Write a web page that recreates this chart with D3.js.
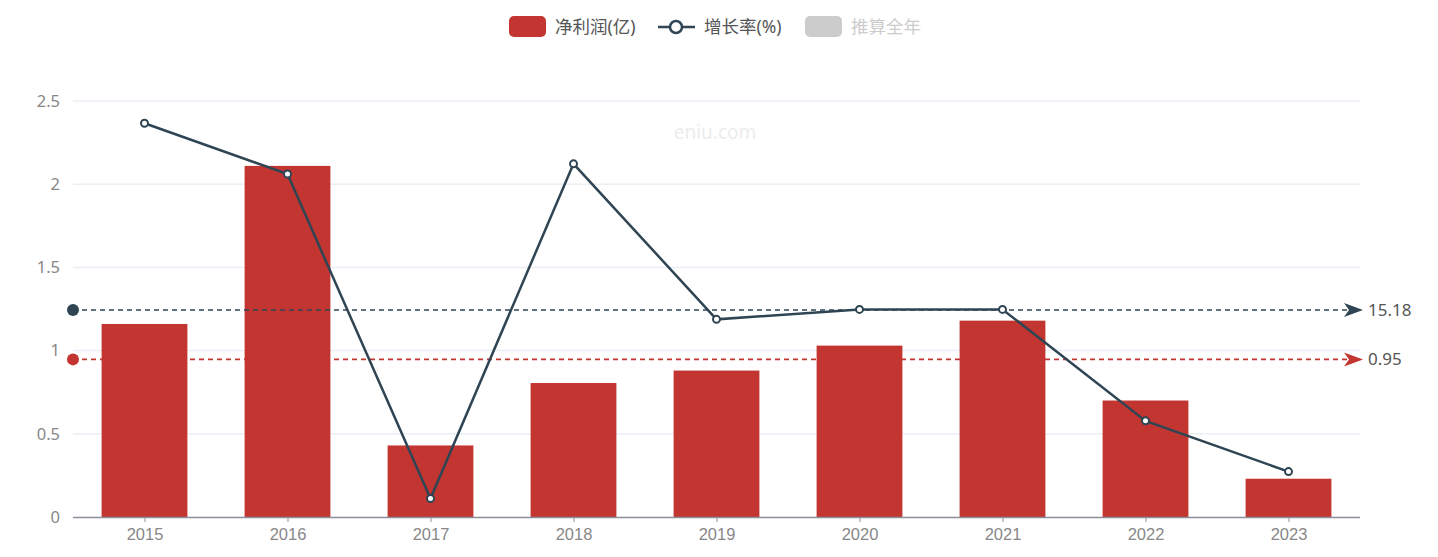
<!DOCTYPE html>
<html><head><meta charset="utf-8">
<script src="https://cdn.jsdelivr.net/npm/d3@7"></script>
<style>
html,body{margin:0;padding:0;background:#fff;}
svg{display:block;font-family:"Noto Sans","Noto Sans CJK SC",sans-serif;}
</style></head>
<body>
<svg id="c" width="1438" height="557"></svg>
<script>
const years = ["2015","2016","2017","2018","2019","2020","2021","2022","2023"];
const netProfit = [1.16, 2.11, 0.43, 0.805, 0.88, 1.03, 1.18, 0.70, 0.23];
const growthRate = [109, 83.5, -79.5, 88.62, 10.5, 15.5, 15.5, -40.5, -66];
const yTicks = [0, 0.5, 1, 1.5, 2, 2.5];
const legendItems = ["净利润(亿)", "增长率(%)", "推算全年"];

const svg = d3.select("#c");
const L = 73, R = 1360, T = 101, B = 517;
const red = "#c23531", dark = "#2f4554";

const x = d3.scaleBand().domain(years).range([L, R]).paddingInner(0.4).paddingOuter(0.2);
const xc = d3.scalePoint().domain(years).range([L, R]).padding(0.5);
const y = d3.scaleLinear().domain([0, 2.5]).range([B, T]);
const y2 = d3.scaleLinear().domain([-88.8, 120.2]).range([B, T]);

// watermark
svg.append("text").attr("x", 715).attr("y", 139).attr("text-anchor", "middle")
  .attr("font-size", 19).attr("fill", "#ededed").text("eniu.com");

// grid
svg.append("g").selectAll("line").data(yTicks.filter(d => d > 0)).join("line")
  .attr("x1", L).attr("x2", R).attr("y1", d => y(d)).attr("y2", d => y(d))
  .attr("stroke", "#eaeef5").attr("stroke-width", 1.5);

// y labels
svg.append("g").selectAll("text").data(yTicks).join("text")
  .attr("x", 60).attr("y", d => y(d)).attr("dy", "0.35em").attr("text-anchor", "end")
  .attr("font-size", 16.5).attr("fill", "#888").text(d => d);

// bars
svg.append("g").selectAll("rect").data(netProfit).join("rect")
  .attr("x", (d, i) => x(years[i])).attr("width", x.bandwidth())
  .attr("y", d => y(d)).attr("height", d => B - y(d)).attr("fill", red);

// x axis
const xa = svg.append("g").attr("transform", `translate(0,${B})`)
  .call(d3.axisBottom(xc).tickSize(5).tickPadding(6));
xa.select(".domain").attr("d", `M${L},0.5H${R}`).attr("stroke", "#8c8f99").attr("stroke-width", 1.5);
xa.selectAll(".tick line").attr("stroke", "#8c8f99");
xa.selectAll(".tick text").attr("font-size", 16.5).attr("fill", "#888");

// mark lines (averages)
function markLine(val, scale, color, label) {
  const yy = scale(val);
  const g = svg.append("g");
  g.append("line").attr("x1", L).attr("x2", R - 4).attr("y1", yy).attr("y2", yy)
    .attr("stroke", color).attr("stroke-width", 1.6).attr("stroke-dasharray", "5,4");
  g.append("circle").attr("cx", L).attr("cy", yy).attr("r", 6).attr("fill", color);
  g.append("path").attr("d", `M${R + 3},${yy} L${R - 16},${yy - 7} L${R - 11},${yy} L${R - 16},${yy + 7} Z`)
    .attr("fill", color);
  g.append("text").attr("x", R + 8).attr("y", yy).attr("dy", "0.35em")
    .attr("font-size", 17).attr("fill", "#555").text(label);
}
const avgGrowth = d3.mean(growthRate);
const avgProfit = d3.mean(netProfit);
markLine(avgGrowth, y2, dark, avgGrowth.toFixed(2));
markLine(avgProfit, y, red, avgProfit.toFixed(2));

// growth line
svg.append("path").datum(growthRate)
  .attr("d", d3.line().x((d, i) => xc(years[i])).y(d => y2(d)))
  .attr("fill", "none").attr("stroke", dark).attr("stroke-width", 2.5);
svg.append("g").selectAll("circle").data(growthRate).join("circle")
  .attr("cx", (d, i) => xc(years[i])).attr("cy", d => y2(d)).attr("r", 3.5)
  .attr("fill", "#fff").attr("stroke", dark).attr("stroke-width", 2);

// legend
const lg = svg.append("g");
lg.append("rect").attr("x", 509).attr("y", 16).attr("width", 37).attr("height", 21).attr("rx", 5).attr("fill", red);
lg.append("text").attr("x", 555).attr("y", 27).attr("dy", "0.35em").attr("font-size", 17.5).attr("fill", "#555").text(legendItems[0]);
lg.append("line").attr("x1", 658).attr("x2", 695).attr("y1", 27).attr("y2", 27).attr("stroke", dark).attr("stroke-width", 2.5);
lg.append("circle").attr("cx", 676).attr("cy", 27).attr("r", 6).attr("fill", "#fff").attr("stroke", dark).attr("stroke-width", 2.5);
lg.append("text").attr("x", 704).attr("y", 27).attr("dy", "0.35em").attr("font-size", 17.5).attr("fill", "#555").text(legendItems[1]);
lg.append("rect").attr("x", 805).attr("y", 16).attr("width", 37).attr("height", 21).attr("rx", 5).attr("fill", "#ccc");
lg.append("text").attr("x", 851).attr("y", 27).attr("dy", "0.35em").attr("font-size", 17.5).attr("fill", "#ccc").text(legendItems[2]);
</script>
</body></html>
